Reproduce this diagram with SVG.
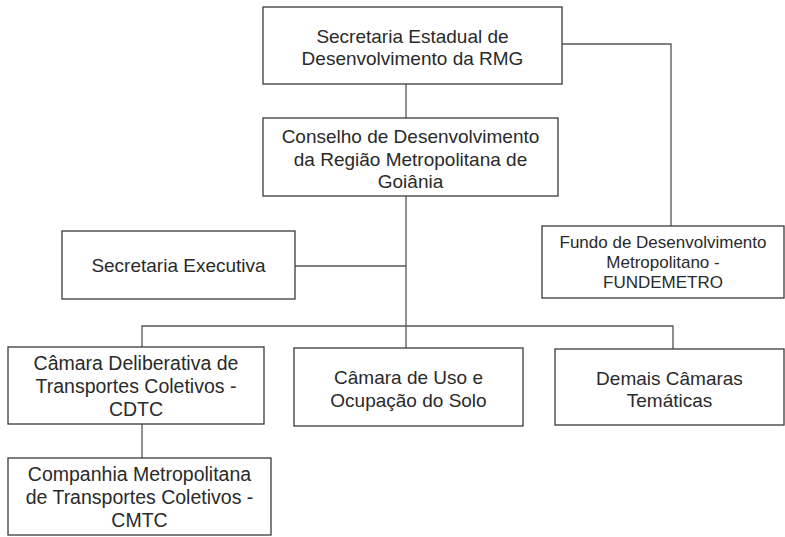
<svg xmlns="http://www.w3.org/2000/svg" width="785" height="537" viewBox="0 0 785 537">
<style>
.box{fill:#fff;stroke:#3a3a3a;stroke-width:1.3}
.t{font-family:"Liberation Sans",Arial,sans-serif;font-size:19px;fill:#2a2a2a;text-anchor:middle}
.s{font-size:17px}
.b{font-size:19.5px}
.c{fill:none;stroke:#555;stroke-width:1.3}
</style>
<rect width="785" height="537" fill="#fff"/>
<g id="connectors">
<path class="c" d="M406 84V118"/>
<path class="c" d="M562 44H671V226"/>
<path class="c" d="M406 196V348"/>
<path class="c" d="M295 266H406"/>
<path class="c" d="M142 347V326H673V349"/>
<path class="c" d="M142 424V458"/>
</g>
<g id="secretaria-estadual">
<rect class="box" x="263" y="7" width="299" height="77"/>
<text class="t" x="412.5" y="43">Secretaria Estadual de</text>
<text class="t" x="412.5" y="65">Desenvolvimento da RMG</text>
</g>
<g id="conselho">
<rect class="box" x="263" y="118" width="295" height="78"/>
<text class="t" x="410.5" y="143">Conselho de Desenvolvimento</text>
<text class="t" x="410.5" y="166">da Região Metropolitana de</text>
<text class="t" x="410.5" y="188">Goiânia</text>
</g>
<g id="secretaria-executiva">
<rect class="box" x="62" y="231" width="233" height="68"/>
<text class="t" x="178.5" y="272">Secretaria Executiva</text>
</g>
<g id="fundo">
<rect class="box" x="542" y="226" width="242" height="72"/>
<text class="t s" x="663" y="248">Fundo de Desenvolvimento</text>
<text class="t s" x="663" y="268">Metropolitano -</text>
<text class="t s" x="663" y="288">FUNDEMETRO</text>
</g>
<g id="camara-deliberativa">
<rect class="box" x="8" y="347" width="256" height="77"/>
<text class="t b" x="136" y="370">Câmara Deliberativa de</text>
<text class="t b" x="136" y="393">Transportes Coletivos -</text>
<text class="t b" x="136" y="416">CDTC</text>
</g>
<g id="camara-uso">
<rect class="box" x="294" y="348" width="229" height="78"/>
<text class="t" x="408.5" y="384">Câmara de Uso e</text>
<text class="t" x="408.5" y="407">Ocupação do Solo</text>
</g>
<g id="demais">
<rect class="box" x="555" y="349" width="229" height="76"/>
<text class="t" x="669.5" y="385">Demais Câmaras</text>
<text class="t" x="669.5" y="407">Temáticas</text>
</g>
<g id="companhia">
<rect class="box" x="8" y="458" width="263" height="77"/>
<text class="t b" x="139.5" y="481">Companhia Metropolitana</text>
<text class="t b" x="139.5" y="504">de Transportes Coletivos -</text>
<text class="t b" x="139.5" y="527">CMTC</text>
</g>
</svg>
